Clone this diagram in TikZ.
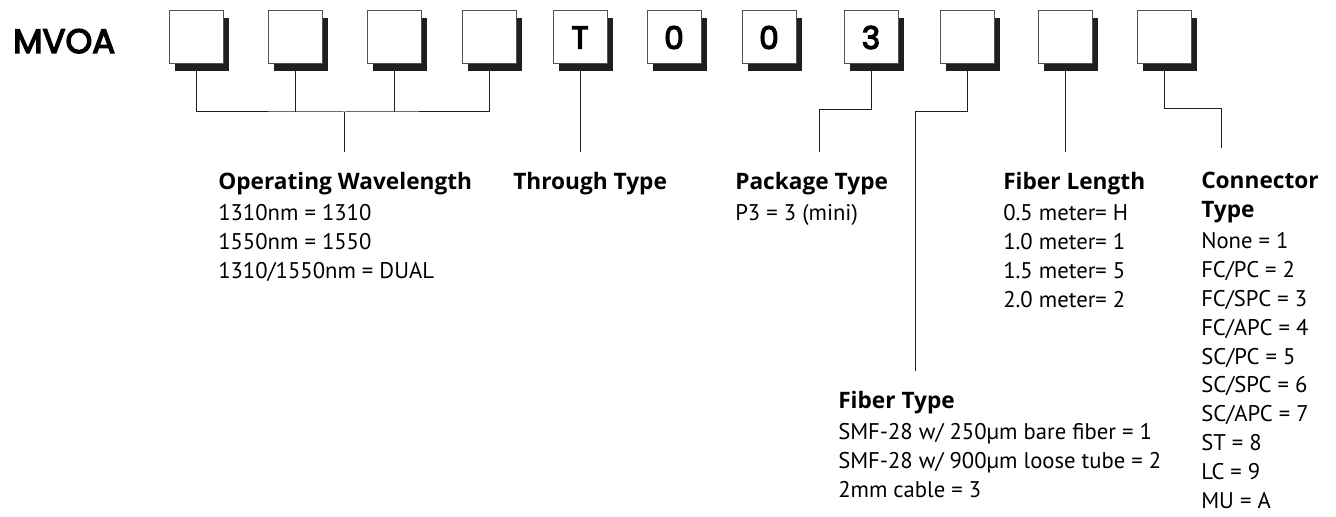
\documentclass[tikz,border=0pt]{standalone}
\usepackage{fontspec}
\setmainfont{PT Sans}
\newfontfamily\headfont{Open Sans}
\newfontfamily\codefont[FakeBold=4]{Poppins}
\usepackage{tikz}
\usetikzlibrary{positioning, shadows}
\definecolor{RichBlack}{gray}{0.12}
\definecolor{BoxEdge}{gray}{0.32}
\newcommand{\legendhead}[1]{{\headfont\bfseries #1}}
\tikzset{%
  codebox/.style={%
    rectangle,%
    draw=BoxEdge,%
    line width=0.75pt,%
    fill=white,%
    minimum width=40.5pt,%
    minimum height=39.75pt,%
    inner sep=0pt,%
    font={\codefont\fontsize{23.5}{23.5}\selectfont},%
    drop shadow={shadow xshift=4.5pt, shadow yshift=-5.25pt, opacity=1, fill=RichBlack},%
  },
  lead/.style={%
    color=RichBlack,%
    line width=0.75pt,%
  },
  legend/.style={%
    anchor=north west,%
    inner sep=0pt,%
    align=left,%
    font={\fontsize{17}{21.6}\selectfont},%
  },
}

\begin{document}
\begin{tikzpicture}[x=0.75pt, y=0.75pt]
    \useasboundingbox (0,0) rectangle (1336,-517);

    \node [anchor=base west, inner sep=0pt, font={\codefont\fontsize{25.5}{25.5}\selectfont}] (prefix) at (13,-53) {MVOA};

    \node [codebox] (b1) at (196,-37.5) {};
    \node [codebox, right = 44 of b1] (b2) {};
    \node [codebox, right = 44 of b2] (b3) {};
    \node [codebox, right = 40 of b3] (b4) {};
    \node [codebox, right = 36 of b4] (b5) {T};
    \node [codebox, right = 39 of b5] (b6) {0};
    \node [codebox, right = 40 of b6] (b7) {0};
    \node [codebox, right = 47 of b7] (b8) {3};
    \node [codebox, right = 41 of b8] (b9) {};
    \node [codebox, right = 43 of b9] (b10) {};
    \node [codebox, right = 44 of b10] (b11) {};

    % lead lines
    \coordinate (wl_bus) at (344.5,-112);
    \coordinate (wl_end) at (344.5,-152);
    \coordinate (pk_bend) at (819,-110);
    \coordinate (pk_end) at (819,-152);
    \coordinate (ft_bend) at (915,-112);
    \coordinate (ft_end) at (915,-371);
    \coordinate (ct_bend) at (1221,-109);
    \coordinate (ct_end) at (1221,-148);

    \draw [lead]
      (b1.south) |- (wl_bus) -| (b4.south);
    \draw [lead] (b2.south) -- (b2.south |- wl_bus);
    \draw [lead] (b3.south) -- (b3.south |- wl_bus);
    \draw [lead] (wl_bus) -- (wl_end);
    \draw [lead] (b5.south) -- (b5.south |- wl_end);
    \draw [lead]
      (b8.south)
      |-
      (pk_bend)
      --
      (pk_end);
    \draw [lead]
      (b9.south)
      |-
      (ft_bend)
      --
      (ft_end);
    \draw [lead] (b10.south) -- (b10.south |- pk_end);
    \draw [lead]
      (b11.south)
      |-
      (ct_bend)
      --
      (ct_end);

    % legends
    \node [legend] (wavelength) at (218,-172)
      {\legendhead{Operating Wavelength}\\[2pt]
       1310nm = 1310\\ 1550nm = 1550\\ 1310/1550nm = DUAL};
    \node [legend] (through) at (513,-172) {\legendhead{Through Type}};
    \node [legend] (package) at (735,-172)
      {\legendhead{Package Type}\\[2pt] P3 = 3 (mini)};
    \node [legend] (fibertype) at (838,-391)
      {\legendhead{Fiber Type}\\[2pt]
       SMF-28 w/ 250µm bare fiber = 1\\
       SMF-28 w/ 900µm loose tube = 2\\
       2mm cable = 3};
    \node [legend] (fiberlength) at (1003,-172)
      {\legendhead{Fiber Length}\\[2pt]
       0.5 meter= H\\ 1.0 meter= 1\\ 1.5 meter= 5\\ 2.0 meter= 2};
    \node [legend] (connector) at (1201,-172)
      {\legendhead{Connector}\\ \legendhead{Type}\\[2pt]
       None = 1\\ FC/PC = 2\\ FC/SPC = 3\\ FC/APC = 4\\ SC/PC = 5\\
       SC/SPC = 6\\ SC/APC = 7\\ ST = 8\\ LC = 9\\ MU = A};
  \end{tikzpicture}
\end{document}
